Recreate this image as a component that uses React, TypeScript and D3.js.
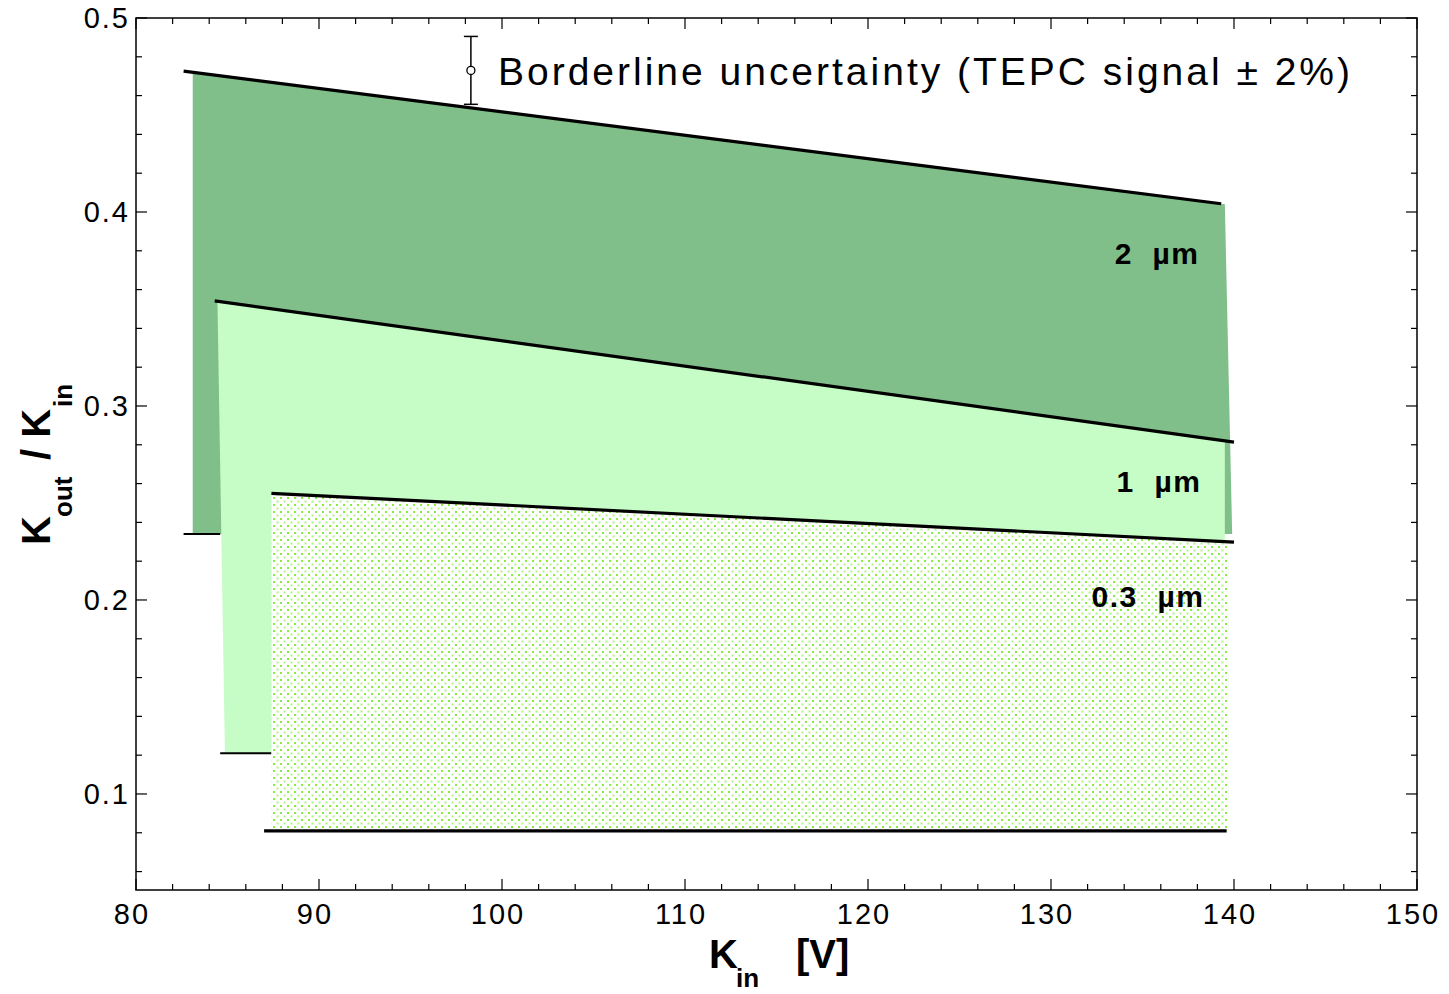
import React from "react";
import * as d3 from "d3";

const bandLabels = ["2  µm", "1  µm", "0.3  µm"];
const bandColors = ["#80bf8a", "#c6fcc6", "url(#dots)"];
// fill geometry (Kin, Kout/Kin)
const fillLeftTop = [83.1, 84.45, 87.4];
const fillLeftBottom = [83.1, 84.86, 87.4];
const fillRightTop = [139.5, 139.5, 139.7];
const fillRightBottom = [139.9, 139.5, 139.7];
const topStartVal = [0.472, 0.354, 0.255];
const topEndVal = [0.404, 0.282, 0.23];
const bottomVal = [0.234, 0.121, 0.081];
// black border lines
const topLineX0 = [82.6, 84.3, 87.4];
const topLineX1 = [139.3, 140.0, 140.0];
const bottomLineX0 = [82.6, 84.6, 87.0];
const bottomLineX1 = [84.6, 87.4, 139.6];
const labelX = [135.8, 135.9, 135.3];
const labelY = [0.376, 0.258, 0.199];

const xTicks = [80, 90, 100, 110, 120, 130, 140, 150];
const yTicks = [0.1, 0.2, 0.3, 0.4, 0.5];

const legendX = 98.3;
const legendY = 0.473;
const legendErr = 0.0175;

export default function App() {
  const W = 1449, H = 994;
  const L = 136, R = 1417, T = 18, B = 890;
  const x = d3.scaleLinear().domain([80, 150]).range([L, R]);
  const y = d3.scaleLinear().domain([0.0505, 0.5]).range([B, T]);
  const interpTop = (i: number, xv: number) =>
    topStartVal[i] + ((topEndVal[i] - topStartVal[i]) * (xv - fillLeftTop[i])) / (fillRightTop[i] - fillLeftTop[i]);

  const xMinor = d3.range(80, 150.01, 2);
  const yMinor = d3.range(0.06, 0.5001, 0.02);

  const font = "Arial, 'Liberation Sans', sans-serif";

  return (
    <svg width={W} height={H} style={{ display: "block", position: "absolute", left: 0, top: 0, background: "#fff" }}>
      <defs>
        <pattern id="dots" width="7" height="7" patternUnits="userSpaceOnUse">
          <rect width="7" height="7" fill="#ffffff" />
          <rect x="0" y="0" width="2" height="2" fill="#86ec40" />
          <rect x="3.5" y="3.5" width="2" height="2" fill="#b0f385" />
        </pattern>
      </defs>
      {bandLabels.map((lab, i) => {
        const pts: [number, number][] = [
          [x(fillLeftTop[i]), y(topStartVal[i])],
          [x(fillRightTop[i]), y(interpTop(i, fillRightTop[i]))],
          [x(fillRightBottom[i]), y(bottomVal[i])],
          [x(fillLeftBottom[i]), y(bottomVal[i])],
        ];
        const line = d3.line();
        return (
          <g key={lab}>
            <path d={line(pts) + "Z"} fill={bandColors[i]} />
            <line
              x1={x(topLineX0[i])}
              y1={y(interpTop(i, topLineX0[i]))}
              x2={x(topLineX1[i])}
              y2={y(interpTop(i, topLineX1[i]))}
              stroke="#000"
              strokeWidth={3.2}
            />
            <line
              x1={x(bottomLineX0[i])}
              y1={y(bottomVal[i])}
              x2={x(bottomLineX1[i])}
              y2={y(bottomVal[i])}
              stroke="#000"
              strokeWidth={i === 2 ? 3.2 : 2.2}
            />
          </g>
        );
      })}
      {bandLabels.map((lab, i) => (
        <text
          key={"l" + lab}
          x={x(labelX[i])}
          y={y(labelY[i]) + 5}
          textAnchor="middle"
          fontFamily={font}
          fontWeight="bold"
          fontSize={30}
          letterSpacing={1.5}
          style={{ whiteSpace: "pre" }}
        >
          {lab}
        </text>
      ))}
      {/* frame */}
      <rect x={L} y={T} width={R - L} height={B - T} fill="none" stroke="#000" strokeWidth={1.5} />
      {/* ticks */}
      {xMinor.map((v) => {
        const major = Math.abs(v / 10 - Math.round(v / 10)) < 1e-6;
        const len = major ? 11 : 6;
        return (
          <g key={"xt" + v}>
            <line x1={x(v)} x2={x(v)} y1={B} y2={B - len} stroke="#000" strokeWidth={1.2} />
            <line x1={x(v)} x2={x(v)} y1={T} y2={T + len} stroke="#000" strokeWidth={1.2} />
          </g>
        );
      })}
      {yMinor.map((v) => {
        const major = Math.abs(v * 10 - Math.round(v * 10)) < 1e-6;
        const len = major ? 11 : 6;
        return (
          <g key={"yt" + v.toFixed(2)}>
            <line x1={L} x2={L + len} y1={y(v)} y2={y(v)} stroke="#000" strokeWidth={1.2} />
            <line x1={R} x2={R - len} y1={y(v)} y2={y(v)} stroke="#000" strokeWidth={1.2} />
          </g>
        );
      })}
      {xTicks.map((v) => (
        <text key={"xl" + v} x={x(v) - 4} y={B + 34} textAnchor="middle" fontFamily={font} fontSize={29} letterSpacing={2}>
          {v}
        </text>
      ))}
      {yTicks.map((v) => (
        <text key={"yl" + v} x={L - 6} y={y(v) + 10} textAnchor="end" fontFamily={font} fontSize={29} letterSpacing={2}>
          {v.toFixed(1)}
        </text>
      ))}
      {/* x axis title */}
      <text x={709} y={968} fontFamily={font} fontWeight="bold" fontSize={40}>
        K
      </text>
      <text x={736} y={987} fontFamily={font} fontWeight="bold" fontSize={26}>
        in
      </text>
      <text x={796} y={968} fontFamily={font} fontWeight="bold" fontSize={40}>
        [V]
      </text>
      {/* y axis title */}
      <g transform="translate(50,545) rotate(-90)">
        <text x={0} y={0} fontFamily={font} fontWeight="bold" fontSize={40}>
          K
        </text>
        <text x={28} y={22} fontFamily={font} fontWeight="bold" fontSize={26}>
          out
        </text>
        <text x={85} y={0} fontFamily={font} fontWeight="bold" fontSize={40}>
          / K
        </text>
        <text x={138} y={22} fontFamily={font} fontWeight="bold" fontSize={26}>
          in
        </text>
      </g>
      {/* legend */}
      <line x1={x(legendX)} x2={x(legendX)} y1={y(legendY + legendErr)} y2={y(legendY - legendErr)} stroke="#000" strokeWidth={1.5} />
      <line x1={x(legendX) - 7} x2={x(legendX) + 7} y1={y(legendY + legendErr)} y2={y(legendY + legendErr)} stroke="#000" strokeWidth={1.5} />
      <line x1={x(legendX) - 7} x2={x(legendX) + 7} y1={y(legendY - legendErr)} y2={y(legendY - legendErr)} stroke="#000" strokeWidth={1.5} />
      <circle cx={x(legendX)} cy={y(legendY)} r={4} fill="#fff" stroke="#000" strokeWidth={1.3} />
      <text x={498} y={85} fontFamily={font} fontSize={39} textLength={852} lengthAdjust="spacing">
        Borderline uncertainty (TEPC signal ± 2%)
      </text>
    </svg>
  );
}
